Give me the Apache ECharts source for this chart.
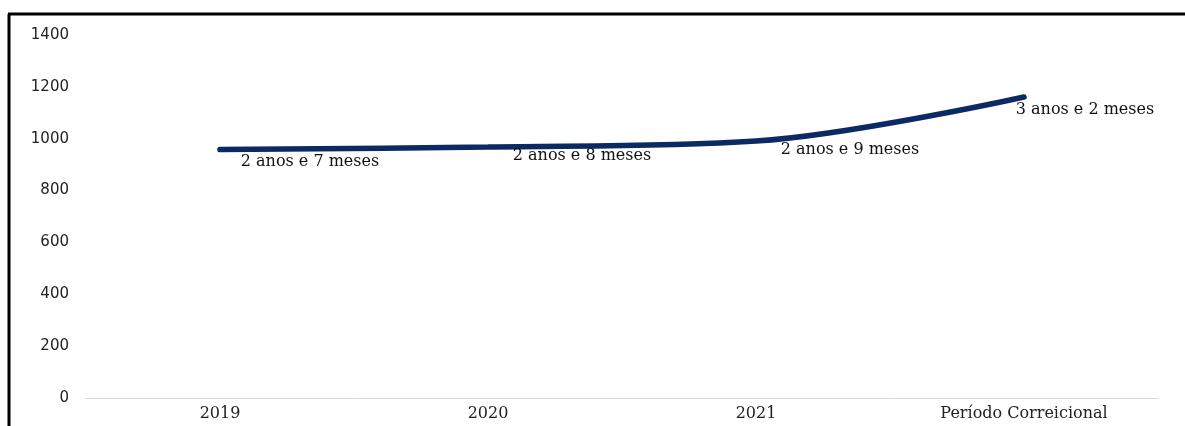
<!DOCTYPE html>
<html>
<head>
<meta charset="utf-8">
<script src="https://cdn.jsdelivr.net/npm/echarts@6/dist/echarts.min.js"></script>
<style>
	html, body { margin: 0; padding: 0; background: #fff; }
	#chart { width: 1185px; height: 426px; }
</style>
</head>
<body>
<div id="chart"></div>
<script type="text/javascript">
	var categories = ['2019', '2020', '2021', 'Período Correicional'];
	var values = [958, 968, 991, 1161];
	var pointLabels = ['2 anos e 7 meses', '2 anos e 8 meses', '2 anos e 9 meses', '3 anos e 2 meses'];
	var yTicks = [0, 200, 400, 600, 800, 1000, 1200, 1400];

	// labels sit below and to the right of each point
	var labelOffsets = [[90, 12], [94, 9], [94, 9], [61, 13]];

	var seriesData = values.map(function (v, i) {
		return {
			value: v,
			label: { offset: labelOffsets[i] }
		};
	});

	var option = {
		backgroundColor: '#fff',
		animation: false,
		grid: { left: 86, right: 27, top: 35, bottom: 28 },
		graphic: [
			{ type: 'line', shape: { x1: 9, y1: 14, x2: 9, y2: 426 }, style: { stroke: '#000', lineWidth: 3 } },
			{ type: 'line', shape: { x1: 8, y1: 14, x2: 1185, y2: 14 }, style: { stroke: '#000', lineWidth: 3 } }
		],
		xAxis: {
			type: 'category',
			data: categories,
			boundaryGap: true,
			axisLine: { lineStyle: { color: '#d9d9d9', width: 1 } },
			axisTick: { show: false },
			axisLabel: { color: '#222', fontFamily: 'DejaVu Serif', fontSize: 16, margin: 8 }
		},
		yAxis: {
			type: 'value',
			min: yTicks[0],
			max: yTicks[yTicks.length - 1],
			interval: 200,
			axisLine: { show: false },
			axisTick: { show: false },
			splitLine: { show: false },
			axisLabel: {
				color: '#222', fontFamily: 'DejaVu Sans', fontSize: 15, margin: 17,
				formatter: function (v) { return String(v); }
			}
		},
		series: [
			{
				type: 'line',
				data: seriesData,
				smooth: 0.35,
				symbol: 'circle',
				symbolSize: 1,
				showSymbol: true,
				itemStyle: { color: '#0b2a63' },
				lineStyle: { color: '#0b2a63', width: 5.5, cap: 'round' },
				label: {
					show: true,
					position: 'inside',
					formatter: function (p) { return pointLabels[p.dataIndex]; },
					color: '#111',
					fontFamily: 'DejaVu Serif',
					fontSize: 16
				}
			}
		]
	};

	var myChart = echarts.init(document.getElementById('chart'));
	myChart.setOption(option);
</script>
</body>
</html>
